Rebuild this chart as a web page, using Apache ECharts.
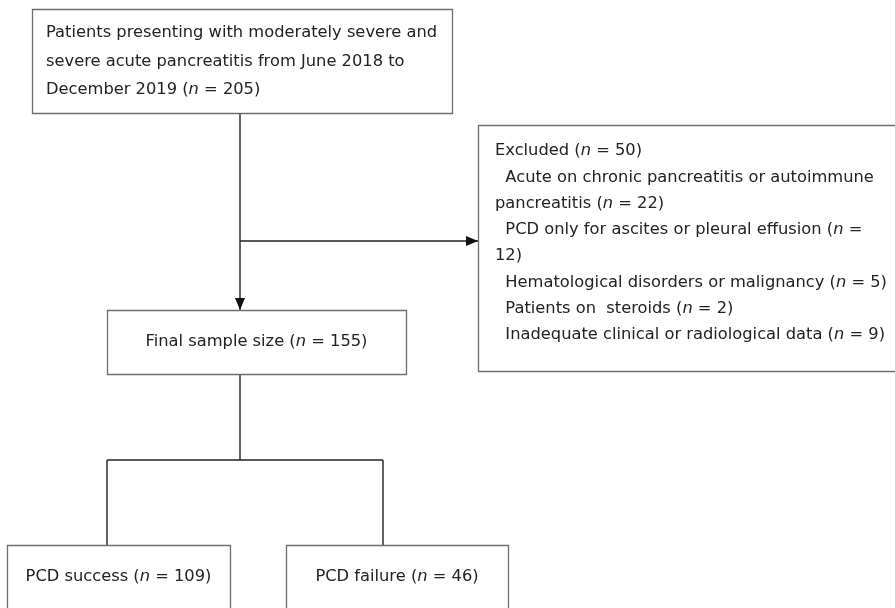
<!DOCTYPE html>
<html><head><meta charset="utf-8">
<script src="https://cdn.jsdelivr.net/npm/echarts@6/dist/echarts.min.js"></script>
<style>html,body{margin:0;padding:0;background:#fff}#c{width:895px;height:608px}</style>
</head><body><div id="c"></div>
<script>
// ---- content ----
const startText = [
  'Patients presenting with moderately severe and',
  'severe acute pancreatitis from June 2018 to',
  'December 2019 ({i|n} = 205)'
];
const excludedText = [
  'Excluded ({i|n} = 50)',
  '  Acute on chronic pancreatitis or autoimmune',
  'pancreatitis ({i|n} = 22)',
  '  PCD only for ascites or pleural effusion ({i|n} =',
  '12)',
  '  Hematological disorders or malignancy ({i|n} = 5)',
  '  Patients on  steroids ({i|n} = 2)',
  '  Inadequate clinical or radiological data ({i|n} = 9)'
];
const finalText = ['Final sample size ({i|n} = 155)'];
const successText = ['PCD success ({i|n} = 109)'];
const failureText = ['PCD failure ({i|n} = 46)'];
const counts = { total: 205, excluded: 50, final: 155, success: 109, failure: 46 };

// ---- layout (pixel space of the hidden axes) ----
const boxes = [
  { rect: [32, 9, 452, 113], lines: startText, align: 'left', tx: 46, ty: 33, lh: 28.5 },
  { rect: [478, 125, 905, 371], lines: excludedText, align: 'left', tx: 495, ty: 151, lh: 26.3 },
  { rect: [107, 310, 406, 374], lines: finalText, align: 'center', tx: 256.5, ty: 342, lh: 26 },
  { rect: [7, 545, 230, 620], lines: successText, align: 'center', tx: 118.5, ty: 577, lh: 26 },
  { rect: [286, 545, 508, 620], lines: failureText, align: 'center', tx: 397, ty: 577, lh: 26 }
];
const connectors = [
  { pts: [[240, 113], [240, 310]], arrow: 'down' },
  { pts: [[240, 241], [478, 241]], arrow: 'right' },
  { pts: [[240, 374], [240, 460]] },
  { pts: [[107, 460], [383, 460]] },
  { pts: [[107, 460], [107, 545]] },
  { pts: [[383, 460], [383, 545]] }
];

const FONT = 'DejaVu Sans';
const FS = 16.3;
const TEXT_COLOR = '#222';

const chart = echarts.init(document.getElementById('c'), null, { renderer: 'canvas' });

function boxItem(params, api) {
  const b = boxes[params.dataIndex];
  const p0 = api.coord([b.rect[0], b.rect[1]]);
  const p1 = api.coord([b.rect[2], b.rect[3]]);
  const children = [{
    type: 'rect',
    shape: { x: p0[0] + 0.5, y: p0[1] + 0.5, width: p1[0] - p0[0], height: p1[1] - p0[1] },
    style: { fill: '#fff', stroke: '#6e6e6e', lineWidth: 1.3 }
  }];
  b.lines.forEach(function (ln, k) {
    const t = api.coord([b.tx, b.ty + k * b.lh]);
    children.push({
      type: 'text',
      x: t[0], y: t[1],
      style: {
        text: ln.replace(/ /g, '\u00a0'),
        fill: TEXT_COLOR,
        fontFamily: FONT,
        fontSize: FS,
        align: b.align,
        verticalAlign: 'middle',
        rich: { i: { fontStyle: 'italic', fontFamily: FONT, fontSize: FS, fill: TEXT_COLOR } }
      }
    });
  });
  return { type: 'group', children: children };
}

function connItem(params, api) {
  const c = connectors[params.dataIndex];
  const pts = c.pts.map(function (p) { return api.coord(p); });
  const children = [{
    type: 'polyline',
    shape: { points: pts },
    style: { stroke: '#222', lineWidth: 1.4, fill: null }
  }];
  if (c.arrow) {
    const e = pts[pts.length - 1];
    let tri;
    if (c.arrow === 'down') tri = [[e[0] - 5, e[1] - 12], [e[0] + 5, e[1] - 12], [e[0], e[1]]];
    else tri = [[e[0] - 12, e[1] - 5], [e[0] - 12, e[1] + 5], [e[0], e[1]]];
    children.push({ type: 'polygon', shape: { points: tri }, style: { fill: '#111' } });
  }
  return { type: 'group', children: children };
}

chart.setOption({
  animation: false,
  grid: { left: 0, right: 0, top: 0, bottom: 0 },
  xAxis: { type: 'value', min: 0, max: 895, show: false },
  yAxis: { type: 'value', min: 0, max: 608, inverse: true, show: false },
  series: [
    {
      type: 'custom', name: 'connectors', renderItem: connItem, clip: false,
      data: connectors.map(function (c, i) { return [i]; }), z: 1
    },
    {
      type: 'custom', name: 'boxes', renderItem: boxItem, clip: false,
      data: boxes.map(function (b, i) { return [i]; }), z: 2
    }
  ]
});
</script>
</body></html>
